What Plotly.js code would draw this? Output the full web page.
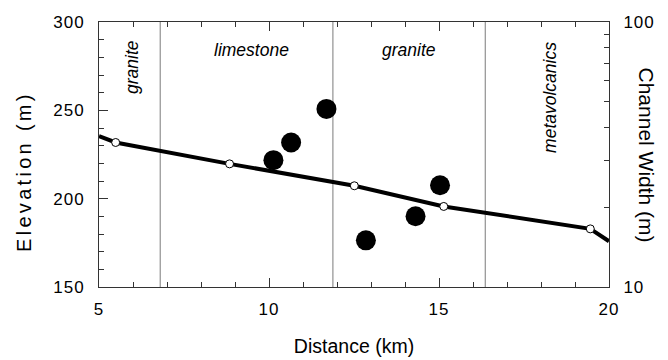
<!DOCTYPE html>
<html>
<head>
<meta charset="utf-8">
<script src="https://cdn.plot.ly/plotly-3.0.1.min.js"></script>
<style>
html,body{margin:0;padding:0;background:#fff;}
#chart{width:668px;height:360px;}
#chart .annotation[data-index="4"] text{letter-spacing:3.3px;}
#chart .xtick text,#chart .ytick text,#chart .y2tick text{letter-spacing:1px;}
</style>
</head>
<body>
<div id="chart"></div>
<script>
// Elevation profile (left axis)
const profileDistance = [5, 5.49, 8.84, 12.51, 15.14, 19.45, 20];
const profileElevation = [235.4, 231.8, 219.7, 207.3, 195.6, 182.9, 175.9];
// Surveyed profile points (white circles)
const surveyDistance = [5.49, 8.84, 12.51, 15.14, 19.45];
const surveyElevation = [231.8, 219.7, 207.3, 195.6, 182.9];
// Channel width (right log axis)
const widthDistance = [10.13, 10.65, 11.69, 12.85, 14.31, 15.03];
const channelWidth = [30.1, 35.1, 47.0, 15.0, 18.5, 24.2];
// Lithologic boundaries and units
const boundaries = [6.80, 11.88, 16.36];
const unitNames = ['granite', 'limestone', 'granite', 'metavolcanics'];
const unitDistance = [5.97, 9.49, 14.12, 18.26];
const unitElevation = [274.5, 284, 284, 257.5];
const unitVertical = [true, false, false, true];
// Tick labels and titles
const xTicks = [5, 10, 15, 20];
const yTicks = [150, 200, 250, 300];
const widthTicks = [10, 20, 30, 40, 50, 60, 70, 80, 90, 100];
const widthTickText = ['10', '', '', '', '', '', '', '', '', '100'];
const xTitle = 'Distance (km)';
const yTitle = 'Elevation (m)';
const y2Title = 'Channel Width (m)';

const yRange = [150, 300];
const font = 'Liberation Sans, Arial, Helvetica, sans-serif';

const bx = [], by = [];
boundaries.forEach(b => { bx.push(b, b, null); by.push(yRange[0], yRange[1], null); });

const traces = [
  {x: bx, y: by, mode: 'lines', line: {color: '#7a7a7a', width: 1}, hoverinfo: 'skip', showlegend: false},
  {x: profileDistance, y: profileElevation, mode: 'lines', line: {color: '#000', width: 4}, showlegend: false},
  {x: surveyDistance, y: surveyElevation, mode: 'markers', marker: {color: '#fff', size: 8, line: {color: '#000', width: 1}}, showlegend: false},
  {x: widthDistance, y: channelWidth, yaxis: 'y2', mode: 'markers', marker: {color: '#000', size: 20}, showlegend: false}
];

const annotations = unitNames.map((n, i) => ({
  x: unitDistance[i], y: unitElevation[i], xref: 'x', yref: 'y',
  text: '<i>' + n + '</i>', showarrow: false,
  textangle: unitVertical[i] ? -90 : 0,
  font: {family: font, size: 17.5, color: '#000'}
}));
annotations.push({
  x: 0, y: 0.434, xref: 'paper', yref: 'paper', xanchor: 'center', yanchor: 'middle',
  xshift: -75.5, text: yTitle, textangle: -90, showarrow: false,
  font: {family: font, size: 20, color: '#000'}
});
annotations.push({
  x: 1, y: 0.5, xref: 'paper', yref: 'paper', xanchor: 'center', yanchor: 'middle',
  xshift: 37, text: y2Title, textangle: 90, showarrow: false,
  font: {family: font, size: 21, color: '#000'}
});

const axisCommon = {
  showline: true, linecolor: '#333', linewidth: 1, showgrid: false, zeroline: false,
  ticks: 'inside', tickcolor: '#333', ticklen: 9, tickwidth: 1,
  tickfont: {family: font, size: 17, color: '#000'}
};

const layout = {
  width: 668, height: 360,
  margin: {l: 99, r: 59, t: 22, b: 73},
  paper_bgcolor: '#fff', plot_bgcolor: '#fff',
  font: {family: font, color: '#000'},
  showlegend: false,
  xaxis: Object.assign({}, axisCommon, {
    range: [5, 20], tickvals: xTicks, mirror: 'ticks', ticklabelstandoff: 7,
    minor: {dtick: 1, ticks: 'inside', ticklen: 5, tickcolor: '#333'},
    title: {text: xTitle, font: {family: font, size: 19.5}, standoff: 20}
  }),
  yaxis: Object.assign({}, axisCommon, {
    range: yRange, tickvals: yTicks, ticklabelstandoff: 10,
    minor: {dtick: 10, ticks: 'inside', ticklen: 5, tickcolor: '#333'}
  }),
  yaxis2: Object.assign({}, axisCommon, {
    overlaying: 'y', side: 'right', type: 'log', range: [1, 2],
    tickvals: widthTicks, ticktext: widthTickText, ticklen: 5, ticklabelstandoff: 10
  }),
  annotations: annotations
};

Plotly.newPlot('chart', traces, layout, {staticPlot: true, displayModeBar: false});
</script>
</body>
</html>
